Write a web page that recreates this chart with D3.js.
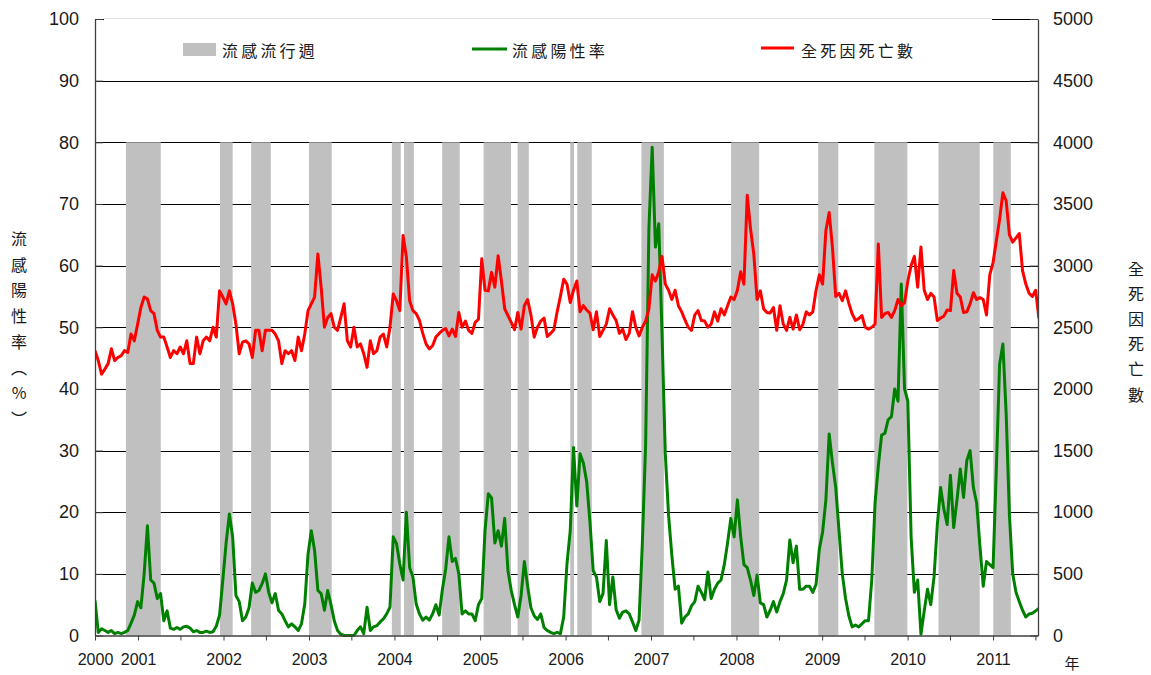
<!DOCTYPE html>
<html>
<head>
<meta charset="utf-8">
<script src="https://cdn.jsdelivr.net/npm/d3@7"></script>
<style>
  html, body { margin: 0; padding: 0; background: #fff; }
  svg { display: block; }
  .num { font-family: "Liberation Sans", Arial, sans-serif; fill: #1a1a1a; }
  .cjk { font-family: "Noto Sans CJK TC", "Noto Sans CJK SC", sans-serif; fill: #1a1a1a; }
</style>
</head>
<body>
<svg id="chart" width="1151" height="675"></svg>
<script>
// Weekly series sampled every 14 days starting 2000-07-01
const seriesStart = "2000-07-01";
const stepDays = 14;

// 流感陽性率 (%)
const positivity = [
  5.7, 0.5, 1.1, 0.8, 0.5, 0.8, 0.3, 0.5, 0.3, 0.5,
  0.8, 2.0, 3.3, 5.5, 4.5, 10, 17.8, 9, 8.5, 6,
  6.8, 2.4, 4, 1.2, 1.0, 1.3, 1.0, 1.4, 1.5, 1.2,
  0.6, 0.8, 0.5, 0.5, 0.7, 0.5, 0.6, 1.5, 3.3, 9,
  15, 19.7, 16, 6.5, 5.5, 2.4, 3.0, 4.5, 8.5, 7,
  7.3, 8.4, 10.0, 7, 5.3, 6.8, 4.1, 3.5, 2.4, 1.4,
  1.9, 1.4, 0.8, 1.9, 5.1, 13.2, 17.0, 13.8, 7.3, 6.8,
  4.1, 7.3, 5.0, 2.4, 0.8, 0.2, 0, 0, 0, 0,
  0.8, 1.4, 0.3, 4.6, 0.8, 1.4, 1.6, 2.2, 2.7, 3.5,
  4.6, 16.0, 14.9, 11.6, 9, 20.0, 11, 9.5, 5.1, 3.5,
  2.5, 3.0, 2.5, 3.5, 5.0, 3.3, 7.5, 10.8, 16.0, 12.0,
  12.5, 10.0, 3.5, 4.0, 3.5, 3.5, 2.4, 5.0, 6.0, 17.0,
  23.0, 22.3, 15.0, 17.0, 14.5, 19.0, 10.5, 7.3, 5.0, 3.0,
  6.5, 12.0, 8.0, 4.5, 3.2, 2.6, 3.5, 1.3, 0.8, 0.5,
  0.3, 0.5, 0.3, 3.0, 11.6, 17.0, 30.5, 21, 29.5, 28.0,
  25.0, 18.5, 10.5, 9.5, 5.5, 6.8, 15.4, 5.0, 9.5, 4.2,
  2.8, 3.8, 4.0, 3.5, 2.2, 0.8, 2.5, 15.0, 31.0, 66.0,
  79.2, 63.0, 66.8, 49.0, 29.5, 19.5, 13, 7.5, 8.0, 2.0,
  3.0, 3.5, 4.8, 5.5, 8.0, 7.0, 5.8, 10.3, 6.0, 7.5,
  8.5, 9.0, 11.5, 15.0, 19.0, 16.0, 22, 16.0, 11.5, 11.0,
  9.0, 6.5, 9.8, 5.3, 5.0, 3.0, 4.1, 5.5, 3.8, 5.5,
  6.8, 9.0, 15.5, 11.8, 14.5, 7.5, 7.5, 8.0, 8.0, 7.0,
  8.3, 14.0, 16.8, 22.0, 32.7, 28.0, 24.0, 17.0, 10.0, 6.0,
  3.2, 1.4, 1.7, 1.4, 1.9, 2.4, 2.4, 9.0, 21.5, 27.5,
  32.5, 32.8, 35.0, 35.5, 40.0, 38, 57.0, 40.0, 38.0, 16,
  7.0, 9.0, 0.2, 4.0, 7.5, 5.0, 9.5, 18.0, 24.0, 20.5,
  18.0, 26.0, 17.5, 22.0, 27.0, 22.4, 28.4, 30.0, 24.0, 21.5,
  14.5, 8.0, 12.0, 11.5, 11.0, 27.0, 44.0, 47.3, 36.0, 19.5,
  10.0, 7.0, 5.5, 4.1, 3.0, 3.5, 3.6, 4.0, 4.4
];

// 全死因死亡數
const deaths = [
  2310, 2230, 2120, 2160, 2205, 2325, 2230, 2255, 2270, 2310,
  2295, 2445, 2390, 2525, 2660, 2745, 2730, 2635, 2610, 2475,
  2420, 2420, 2340, 2255, 2310, 2285, 2340, 2285, 2390, 2205,
  2205, 2420, 2285, 2390, 2420, 2390, 2500, 2420, 2795, 2745,
  2690, 2795, 2690, 2525, 2285, 2380, 2390, 2365, 2255, 2475,
  2475, 2310, 2475, 2475, 2475, 2445, 2390, 2205, 2310, 2285,
  2310, 2230, 2420, 2310, 2445, 2635, 2690, 2745, 3095, 2825,
  2500, 2580, 2610, 2500, 2475, 2580, 2690, 2390, 2340, 2500,
  2340, 2365, 2285, 2175, 2390, 2285, 2310, 2420, 2445, 2340,
  2500, 2770, 2715, 2635, 3245, 3070, 2715, 2635, 2610, 2555,
  2450, 2365, 2325, 2350, 2420, 2450, 2475, 2490, 2430, 2485,
  2425, 2620, 2500, 2550, 2475, 2450, 2540, 2565, 3055, 2800,
  2795, 2945, 2825, 3080, 2875, 2650, 2595, 2540, 2480, 2620,
  2485, 2675, 2725, 2600, 2420, 2500, 2550, 2575, 2425, 2450,
  2480, 2625, 2750, 2890, 2850, 2700, 2800, 2875, 2625, 2675,
  2640, 2615, 2480, 2625, 2425, 2475, 2525, 2650, 2600, 2555,
  2450, 2485, 2400, 2450, 2625, 2500, 2430, 2500, 2550, 2650,
  2925, 2875, 2950, 3075, 2850, 2800, 2725, 2800, 2675, 2625,
  2560, 2500, 2475, 2600, 2635, 2555, 2550, 2500, 2525, 2625,
  2550, 2650, 2600, 2675, 2745, 2725, 2800, 2950, 2850, 3570,
  3300, 3095, 2725, 2795, 2650, 2620, 2615, 2660, 2475, 2675,
  2525, 2475, 2580, 2485, 2600, 2480, 2525, 2625, 2600, 2625,
  2800, 2925, 2850, 3285, 3430, 3150, 2750, 2775, 2715, 2795,
  2695, 2610, 2555, 2570, 2595, 2500, 2485, 2500, 2525, 3175,
  2580, 2610, 2620, 2580, 2635, 2725, 2675, 2700, 2875, 3000,
  3075, 2825, 3150, 2800, 2725, 2775, 2745, 2555, 2575, 2590,
  2640, 2635, 2960, 2775, 2745, 2620, 2625, 2690, 2780, 2725,
  2740, 2725, 2600, 2925, 3025, 3200, 3375, 3590, 3525, 3250,
  3190, 3225, 3260, 2960, 2850, 2775, 2750, 2800, 2570
];

// 流感流行週 (start, end)
const epidemicWeeks = [
  ["2000-11-10", "2001-04-08"],
  ["2001-12-17", "2002-02-09"],
  ["2002-04-29", "2002-07-22"],
  ["2003-01-01", "2003-04-08"],
  ["2003-12-21", "2004-01-28"],
  ["2004-02-11", "2004-03-24"],
  ["2004-07-23", "2004-10-06"],
  ["2005-01-16", "2005-05-13"],
  ["2005-06-10", "2005-07-28"],
  ["2006-01-21", "2006-02-06"],
  ["2006-02-20", "2006-04-23"],
  ["2006-11-21", "2007-02-25"],
  ["2007-12-09", "2008-04-07"],
  ["2008-12-15", "2009-03-11"],
  ["2009-08-12", "2009-12-31"],
  ["2010-05-13", "2010-11-05"],
  ["2011-01-02", "2011-03-18"]
];

const xDomain = ["2000-07-01", "2011-07-12"];
const leftTicks = [0, 10, 20, 30, 40, 50, 60, 70, 80, 90, 100];
const rightTicks = [0, 500, 1000, 1500, 2000, 2500, 3000, 3500, 4000, 4500, 5000];
const legendLabels = ["流感流行週", "流感陽性率", "全死因死亡數"];
const leftTitle = ["流", "感", "陽", "性", "率", "︵", "%", "︶"];
const rightTitle = ["全", "死", "因", "死", "亡", "數"];
const xUnit = "年";

const parse = d3.utcParse("%Y-%m-%d");
const t0 = parse(seriesStart);
const dates = positivity.map((_, i) => d3.utcDay.offset(t0, i * stepDays));

const svg = d3.select("#chart");
const L = 95, R = 1038, T = 19, B = 635.5;

const x = d3.scaleUtc().domain(xDomain.map(parse)).range([L, R]);
const yL = d3.scaleLinear().domain([0, 100]).range([B, T]);
const yR = d3.scaleLinear().domain([0, 5000]).range([B, T]);

// clip for the data lines
svg.append("defs").append("clipPath").attr("id", "plotClip")
  .append("rect").attr("x", L).attr("y", 0).attr("width", R - L).attr("height", B + 2);

// horizontal gridlines
svg.append("g").selectAll("line").data(leftTicks.filter(d => d > 0)).join("line")
  .attr("x1", L).attr("x2", R)
  .attr("y1", d => Math.round(yL(d)) + 0.5).attr("y2", d => Math.round(yL(d)) + 0.5)
  .attr("stroke", "#000").attr("stroke-width", 1);

// epidemic weeks
svg.append("g").selectAll("rect").data(epidemicWeeks).join("rect")
  .attr("x", d => x(parse(d[0])))
  .attr("width", d => x(parse(d[1])) - x(parse(d[0])))
  .attr("y", yL(80))
  .attr("height", B - yL(80))
  .attr("fill", "#c0c0c0");

// legend panel (covers the top gridline)
svg.append("rect").attr("x", 104).attr("y", 18).attr("width", 888).attr("height", 54).attr("fill", "#fff");
svg.append("line").attr("x1", 104).attr("x2", 992).attr("y1", 18.5).attr("y2", 18.5)
  .attr("stroke", "#e2e2e2").attr("stroke-width", 1);

// data lines
const plot = svg.append("g").attr("clip-path", "url(#plotClip)");
const lineL = d3.line().x((d, i) => x(dates[i])).y(d => yL(d));
const lineR = d3.line().x((d, i) => x(dates[i])).y(d => yR(d));

plot.append("path").datum(positivity).attr("d", lineL)
  .attr("fill", "none").attr("stroke", "#008000").attr("stroke-width", 3)
  .attr("stroke-linejoin", "round");
plot.append("path").datum(deaths).attr("d", lineR)
  .attr("fill", "none").attr("stroke", "#ff0000").attr("stroke-width", 3)
  .attr("stroke-linejoin", "round");

// axes
const axisColor = "#404040";
const gL = svg.append("g").attr("transform", `translate(${L},0)`)
  .call(d3.axisLeft(yL).tickValues(leftTicks).tickSizeInner(-8).tickSizeOuter(0).tickPadding(16));
const gR = svg.append("g").attr("transform", `translate(${R},0)`)
  .call(d3.axisRight(yR).tickValues(rightTicks).tickSizeInner(-8).tickSizeOuter(0).tickPadding(15)
    .tickFormat(d3.format("d")));
const halfYears = d3.utcMonth.every(6).range(parse(xDomain[0]), d3.utcDay.offset(parse(xDomain[1]), 1));
const gB = svg.append("g").attr("transform", `translate(0,${B})`)
  .call(d3.axisBottom(x).tickValues(halfYears).tickSizeInner(5).tickSizeOuter(0).tickPadding(13)
    .tickFormat((d, i) => (d.getUTCMonth() === 0 || i === 0) ? d.getUTCFullYear() : ""));

[gL, gR, gB].forEach(g => {
  g.select(".domain").attr("stroke", axisColor).attr("stroke-width", 1.3);
  g.selectAll(".tick line").attr("stroke", axisColor);
  g.selectAll("text").attr("class", "num").attr("fill", "#1a1a1a");
});
gL.selectAll("text").style("font-size", "18px");
gR.selectAll("text").style("font-size", "18px");
gB.selectAll("text").style("font-size", "16px");

// legend entries
const legend = svg.append("g");
legend.append("rect").attr("x", 183).attr("y", 43).attr("width", 33).attr("height", 13).attr("fill", "#c0c0c0");
legend.append("line").attr("x1", 472).attr("x2", 507).attr("y1", 49).attr("y2", 49)
  .attr("stroke", "#008000").attr("stroke-width", 3);
legend.append("line").attr("x1", 761).attr("x2", 794).attr("y1", 48).attr("y2", 48)
  .attr("stroke", "#ff0000").attr("stroke-width", 3);
legend.selectAll("text").data([[222, legendLabels[0]], [512, legendLabels[1]], [801, legendLabels[2]]]).join("text")
  .attr("class", "cjk").attr("x", d => d[0]).attr("y", 50).attr("dominant-baseline", "central")
  .style("font-size", "16px").style("letter-spacing", "3.2px").text(d => d[1]);

// axis titles
svg.append("g").selectAll("text").data(leftTitle).join("text")
  .attr("class", "cjk").attr("x", 19).attr("y", (d, i) => 238 + i * 25.7)
  .attr("text-anchor", "middle").attr("dominant-baseline", "central")
  .style("font-size", "16px").text(d => d);
svg.append("g").selectAll("text").data(rightTitle).join("text")
  .attr("class", "cjk").attr("x", 1136).attr("y", (d, i) => 267.5 + i * 25.2)
  .attr("text-anchor", "middle").attr("dominant-baseline", "central")
  .style("font-size", "16px").text(d => d);
svg.append("text").attr("class", "cjk").attr("x", 1072).attr("y", 662)
  .attr("text-anchor", "middle").attr("dominant-baseline", "central")
  .style("font-size", "15px").text(xUnit);
</script>
</body>
</html>
